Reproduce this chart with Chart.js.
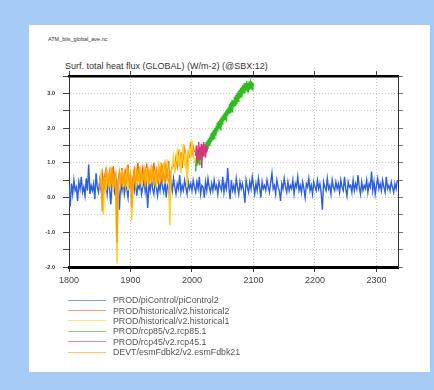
<!DOCTYPE html>
<html>
<head>
<meta charset="utf-8">
<script src="https://cdn.jsdelivr.net/npm/chart.js@4.4.1/dist/chart.umd.min.js"></script>
<style>
  html, body { margin: 0; padding: 0; }
  body { width: 434px; height: 390px; background: #a6cbf4; position: relative; overflow: hidden;
         font-family: "Liberation Sans", Arial, sans-serif; }
  #panel { position: absolute; left: 29px; top: 25px; width: 401px; height: 347px; background: #fff; }
  #cv { position: absolute; left: 0; top: 0; }
  .txt { position: absolute; white-space: nowrap; color: #333; }
  #fname { left: 48px; top: 36px; font-size: 5.5px; }
  #title { left: 65px; top: 61px; font-size: 9px; }
  #legend { position: absolute; left: 68px; top: 295px; }
  .row { height: 10.4px; display: flex; align-items: center; }
  .swatch { width: 38px; height: 0; border-top: 1px solid; margin-right: 7px; opacity: 0.6; }
  .lab { font-size: 8.8px; color: #555; }
</style>
</head>
<body>
<div id="panel"></div>
<div class="txt" id="fname">ATM_bils_global_ave.nc</div>
<div class="txt" id="title">Surf. total heat flux (GLOBAL) (W/m-2) (@SBX:12)</div>
<canvas id="cv" width="434" height="390"></canvas>
<div id="legend"></div>

<script>
/* ── 시리즈 정의 ── */
const seriesNames  = [
  'PROD/piControl/piControl2',
  'PROD/historical/v2.historical2',
  'PROD/historical/v2.historical1',
  'PROD/rcp85/v2.rcp85.1',
  'PROD/rcp45/v2.rcp45.1',
  'DEVT/esmFdbk2/v2.esmFdbk21',
];
const seriesColors = ['#2d5fdc', '#e2602c', '#ffd21e', '#2fbd1e', '#d8327e', '#ffa000'];

/* 시작 연도 / 간격 */
const startYears = [1800, 1850, 1850, 2006, 2006, 1850];
const yearSteps  = [2, 2, 2, 1, 1, 2];

/* piControl (1800-2334, 2년 간격) */
const piControl = [
  0.35, -0.25, 0.4, 0.1, 0.5, 0.2, 0.3, -0.1, 0.45, 0.25, 0.6, 0.15, 0.3, 0.05, 0.55, 0.2, 0.95, 0.1, 0.35, 0.2,
  0.4, -0.05, 0.7, 0.3, 0.15, 0.5, 0.25, 0.0, 0.45, 0.2, 0.35, 0.1, 0.6, 0.25, -0.2, 0.4, 0.3, 0.15, 0.5, 0.2,
  0.3, -0.35, 0.45, 0.2, 0.55, 0.1, 0.35, 0.25, 0.0, 0.5, 0.3, 0.15, 0.4, 0.2, 0.6, 0.05, 0.35, 0.25, 0.45, 0.1,
  0.3, 0.5, 0.15, 0.35, -0.3, 0.4, 0.2, 0.55, 0.25, 0.1, 0.45, 0.3, 0.05, 0.4, 0.2, 0.6, 0.3, 0.15, 0.5, 0.0,
  0.35, 0.25, -0.1, 0.45, 0.2, 0.55, 0.3, 0.1, 0.4, 0.25, 0.65, 0.15, 0.35, 0.2, 0.5, 0.3, 0.1, 0.45, 0.25, 0.4,
  0.2, 0.5, 0.3, 0.15, 0.45, 0.25, 0.6, 0.1, 0.35, 0.3, 0.0, 0.45, 0.2, 0.55, 0.3, 0.15, 0.4, 0.2, 0.5, 0.25,
  0.35, 0.1, 0.45, 0.3, 0.2, 0.6, 0.15, 0.4, 0.25, 0.85, 0.3, -0.05, 0.5, 0.2, 0.35, 0.15, 0.55, 0.3, 0.1, 0.45,
  0.25, 0.4, 0.2, -0.15, 0.5, 0.3, 0.15, 0.45, 0.25, 0.6, 0.35, 0.1, 0.4, 0.2, 0.55, 0.3, 0.0, 0.45, 0.25, 0.35,
  0.2, 0.5, 0.3, 0.15, 0.45, 0.7, 0.25, 0.35, 0.1, 0.5, 0.3, 0.2, -0.1, 0.4, 0.25, 0.55, 0.3, 0.15, 0.45, 0.2,
  0.35, 0.25, 0.5, 0.1, 0.4, 0.3, 0.6, 0.2, 0.35, 0.15, 0.45, 0.25, 0.0, 0.4, 0.3, 0.55, 0.2, 0.35, 0.1, 0.45,
  0.3, 0.2, 0.5, 0.25, 0.4, 0.15, -0.35, 0.45, 0.3, 0.2, 0.55, 0.25, 0.35, 0.1, 0.5, 0.3, 0.2, 0.45, 0.25, 0.4,
  0.15, 0.5, 0.3, 0.2, 0.6, 0.25, 0.05, 0.45, 0.3, 0.35, 0.15, 0.5, 0.2, 0.4, 0.25, 0.65, 0.3, 0.1, 0.45, 0.2,
  0.35, 0.25, 0.5, 0.15, 0.4, 0.3, 0.75, 0.2, 0.45, 0.1, 0.35, 0.55, 0.25, 0.4, 0.2, 0.5, 0.3, 0.15, 0.6, 0.25,
  0.35, 0.2, 0.45, 0.3, 0.15, 0.4, 0.25, 0.5,
];

/* historical2 (1850-2004, 2년 간격) */
const historical2 = [
  0.5, 0.3, 0.7, 0.4, 0.6, 0.8, 0.35, 0.55, 0.75, 0.4, 0.6, 0.9, 0.45, 0.65, -0.3, 0.5, 0.7, 0.4, 0.85, 0.55,
  0.45, 0.75, 0.6, 0.95, 0.4, 0.65, 0.1, 0.55, 0.8, 0.5, 0.7, 1.0, 0.45, 0.75, 0.6, 0.85, 0.5, 0.7, 0.9, 0.55,
  0.75, 0.5, 0.85, 0.65, 1.0, 0.55, 0.8, 0.6, 0.9, 0.7, 0.5, 0.85, 0.65, 0.95, 0.6, 0.8, 1.05, 0.2, 0.75, 0.9,
  1.0, 0.8, 1.15, 0.9, 1.25, 1.0, 1.3, 0.85, 1.2, 1.4, 1.1, 0.6, 1.3, 1.2, 1.5, 1.25, 1.45, 1.3,
];

/* historical1 (1850-2004, 2년 간격) */
const historical1 = [
  0.4, 0.7, 0.3, -0.5, 0.6, 0.2, 0.8, 0.45, 0.35, 0.9, 0.5, 0.2, 0.7, 0.4, -1.9, 0.3, 0.6, 0.5, 0.8, 0.3,
  0.6, 0.4, 0.9, 0.2, 0.5, 0.7, -0.65, 0.3, 0.6, 0.8, 0.4, 0.7, 0.5, 0.9, 0.3, 0.6, 0.75, 0.45, 0.85, 0.5,
  0.7, 0.4, 0.9, 0.6, 0.5, 0.8, 0.3, 0.7, 0.95, 0.5, 0.75, 0.6, 1.0, 0.55, 0.8, 1.1, 0.6, -0.8, 0.7, 0.9,
  1.2, 0.8, 1.0, 1.3, 0.9, 1.4, 0.7, 1.2, 1.55, 0.9, 1.3, 0.3, 1.1, 1.45, 1.2, 1.65, 1.3, 1.0,
];

/* rcp85 (2006-2100, 1년 간격) */
const rcp85 = [
  0.75, 1.15, 0.9, 1.2, 1.0, 1.3, 0.95, 1.25, 1.1, 1.35,
  1.1, 1.4, 1.2, 1.5, 1.3, 1.55, 1.25, 1.6, 1.35, 1.65,
  1.4, 1.7, 1.5, 1.75, 1.55, 1.85, 1.6, 1.9, 1.65, 1.95,
  1.7, 2.0, 1.8, 2.05, 1.85, 2.15, 1.9, 2.2, 2.0, 2.25,
  1.95, 2.3, 2.05, 2.35, 2.1, 2.4, 2.2, 2.45, 2.25, 2.5,
  2.2, 2.55, 2.35, 2.6, 2.4, 2.7, 2.45, 2.75, 2.5, 2.8,
  2.45, 2.8, 2.6, 2.9, 2.65, 2.95, 2.7, 3.0, 2.75, 3.05,
  2.75, 3.1, 2.85, 3.15, 2.9, 3.2, 2.95, 3.25, 3.0, 3.3,
  3.0, 3.3, 3.1, 3.35, 3.05, 3.3, 3.15, 3.35, 3.1, 3.3,
  3.15, 3.35, 3.1, 3.3, 3.2,
];

/* rcp45 (2006-2025, 1년 간격) */
const rcp45 = [
  1.2, 1.5, 1.0, 1.4, 1.25, 1.6, 1.1, 1.45, 1.3, 1.55, 0.85, 1.5, 1.2, 1.6, 1.35, 1.45, 1.15, 1.5, 1.3, 1.4,
];

/* esmFdbk2 (1850-1962, 2년 간격) */
const esmFdbk2 = [
  0.3, 0.55, -0.4, 0.6, 0.25, 0.8, 0.5, 0.35, 0.7, 0.45, 0.85, 0.3, 0.6, 0.2, -1.3, 0.5, 0.75, 0.35, 0.65, 0.4,
  0.7, 0.3, 0.55, 0.85, 0.4, 0.6, -0.3, 0.45, 0.75, 0.35, 0.65, 0.5, 0.9, 0.4, 0.7, 0.55, 0.8, 0.3, 0.6, 0.85,
  0.45, 0.7, 0.5, 0.9, 0.35, 0.65, 0.8, 0.4, 0.75, 0.55, 1.0, 0.5, 0.7, 0.4, 0.85, 0.6, 0.45,
];

const seriesValues = [piControl, historical2, historical1, rcp85, rcp45, esmFdbk2];

/* 축 범위 / 눈금 */
const xMin = 1800, xMax = 2335, xStep = 100;
const yMin = -2.0, yMax = 3.5, yStep = 0.5;

/* ── 데이터셋 생성 (NCL 순서대로 위에 겹치도록 역순) ── */
const datasets = seriesValues.map((vals, k) => ({
  label: seriesNames[k],
  data: vals.map((v, i) => ({ x: startYears[k] + i * yearSteps[k], y: v })),
  borderColor: seriesColors[k],
  borderWidth: 1.4,
  pointRadius: 0,
  tension: 0,
  fill: false,
})).reverse();

const tickFont = { family: '"Liberation Sans", Arial, sans-serif' };
const keepHundreds = s => { s.ticks = s.ticks.filter(t => Math.round(t.value) % xStep === 0); };

new Chart(document.getElementById('cv'), {
  type: 'line',
  data: { datasets },
  options: {
    responsive: false,
    animation: false,
    layout: { padding: { left: 0, top: 70, right: 30, bottom: 101 } },
    plugins: { legend: { display: false }, tooltip: { enabled: false } },
    scales: {
      x: {
        type: 'linear', position: 'bottom', min: xMin, max: xMax,
        afterBuildTicks: keepHundreds,
        afterFit: s => { s.height = 22; },
        ticks: { stepSize: xStep, includeBounds: false, color: '#444', padding: 3, font: { ...tickFont, size: 9 },
                 callback: v => String(v), maxRotation: 0, autoSkip: false },
        grid: { color: '#c8c8c8', tickColor: '#444', tickLength: 5, tickBorderDash: [] },
        border: { color: '#000', width: 3, dash: [1, 2] },
      },
      x2: {
        type: 'linear', position: 'top', min: xMin, max: xMax,
        afterBuildTicks: keepHundreds,
        afterFit: s => { s.height = 6; },
        ticks: { stepSize: xStep, includeBounds: false, display: false },
        grid: { drawOnChartArea: false, tickColor: '#444', tickLength: 5 },
        border: { color: '#000', width: 2.5 },
      },
      y: {
        position: 'left', min: yMin, max: yMax,
        afterFit: s => { s.width = 69; },
        ticks: { stepSize: yStep, color: '#333', padding: 8, autoSkip: false,
                 font: { ...tickFont, size: 5.5, weight: 'bold' },
                 callback: v => Math.abs(v - Math.round(v)) < 1e-6 ? v.toFixed(1) : '' },
        grid: { color: '#c8c8c8', tickColor: '#444', tickLength: 6, tickBorderDash: [] },
        border: { color: '#333', width: 1, dash: [1, 2] },
      },
      y2: {
        position: 'right', min: yMin, max: yMax,
        afterFit: s => { s.width = 6; },
        ticks: { stepSize: yStep, display: false },
        grid: { drawOnChartArea: false, tickColor: '#777', tickLength: 5 },
        border: { color: '#333', width: 1 },
      },
    },
  },
});

/* ── 범례 (HTML) ── */
document.getElementById('legend').innerHTML = seriesNames.map((name, k) => `
  <div class="row">
    <div class="swatch" style="border-color:${seriesColors[k]}"></div>
    <span class="lab">${name}</span>
  </div>`).join('');
</script>
</body>
</html>
